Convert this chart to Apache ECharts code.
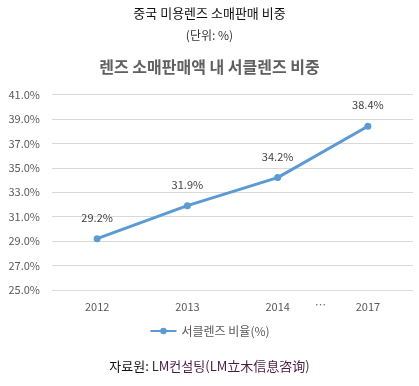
<!DOCTYPE html>
<html><head><meta charset="utf-8">
<script src="https://cdn.jsdelivr.net/npm/echarts@6/dist/echarts.min.js"></script>
<style>html,body{margin:0;padding:0;background:#fff;}#c{width:419px;height:386px;}</style>
</head><body><div id="c"></div>
<script>
const categories = ['2012', '2013', '2014', '2017'];
const values = [29.2, 31.9, 34.2, 38.4];
const seriesName = '서클렌즈 비율(%)';
const yMin = 25, yMax = 41, yStep = 2;

const chart = echarts.init(document.getElementById('c'));
const font = '"Noto Sans CJK KR", "Noto Sans", sans-serif';
chart.setOption({
  animation: false,
  textStyle: { fontFamily: font },
  title: [
    { text: '중국 미용렌즈 소매판매 비중', left: 'center', top: 2, textStyle: { fontSize: 13, fontWeight: 'normal', color: '#111', fontFamily: font } },
    { text: '(단위: %)', left: 'center', top: 24, textStyle: { fontSize: 12, fontWeight: 'normal', color: '#333', fontFamily: font } },
    { text: '렌즈 소매판매액 내 서클렌즈 비중', left: 'center', top: 54, textStyle: { fontSize: 16, fontWeight: 'bold', color: '#606060', fontFamily: font } }
  ],
  grid: { left: 52, right: 6, top: 94.5, bottom: 96 },
  xAxis: {
    type: 'category', data: categories, boundaryGap: true,
    axisLine: { show: false }, axisTick: { show: false },
    axisLabel: { color: '#595959', fontSize: 11, margin: 11, fontFamily: font }
  },
  yAxis: {
    type: 'value', min: yMin, max: yMax, interval: yStep,
    axisLabel: { color: '#595959', fontSize: 11, margin: 12, fontFamily: font, formatter: v => v.toFixed(1) + '%' },
    splitLine: { lineStyle: { color: '#d9d9d9', width: 1 } },
    axisLine: { show: false }, axisTick: { show: false }
  },
  legend: {
    data: [seriesName], bottom: 44, left: 'center', itemWidth: 26, itemHeight: 8,
    textStyle: { color: '#595959', fontSize: 12, fontFamily: font }, itemGap: 4
  },
  series: [{
    name: seriesName, type: 'line', data: values,
    symbol: 'circle', symbolSize: 7,
    lineStyle: { color: '#5B9BD5', width: 3 },
    itemStyle: { color: '#5B9BD5' },
    label: { show: true, position: 'top', distance: 12, color: '#404040', fontSize: 11, fontFamily: font, formatter: p => p.value.toFixed(1) + '%' }
  }],
  graphic: [
    { type: 'text', left: 315, top: 299, style: { text: '…', fill: '#595959', font: '11px ' + font } },
    { type: 'text', left: 'center', top: 360, style: {
      text: '{a|자료원: }{b|LM컨설팅(LM立木信息咨询)}',
      rich: { a: { fill: '#111', fontSize: 13, fontFamily: font }, b: { fill: '#4a1a44', fontSize: 13, fontFamily: font } }
    } }
  ]
});
</script></body></html>
